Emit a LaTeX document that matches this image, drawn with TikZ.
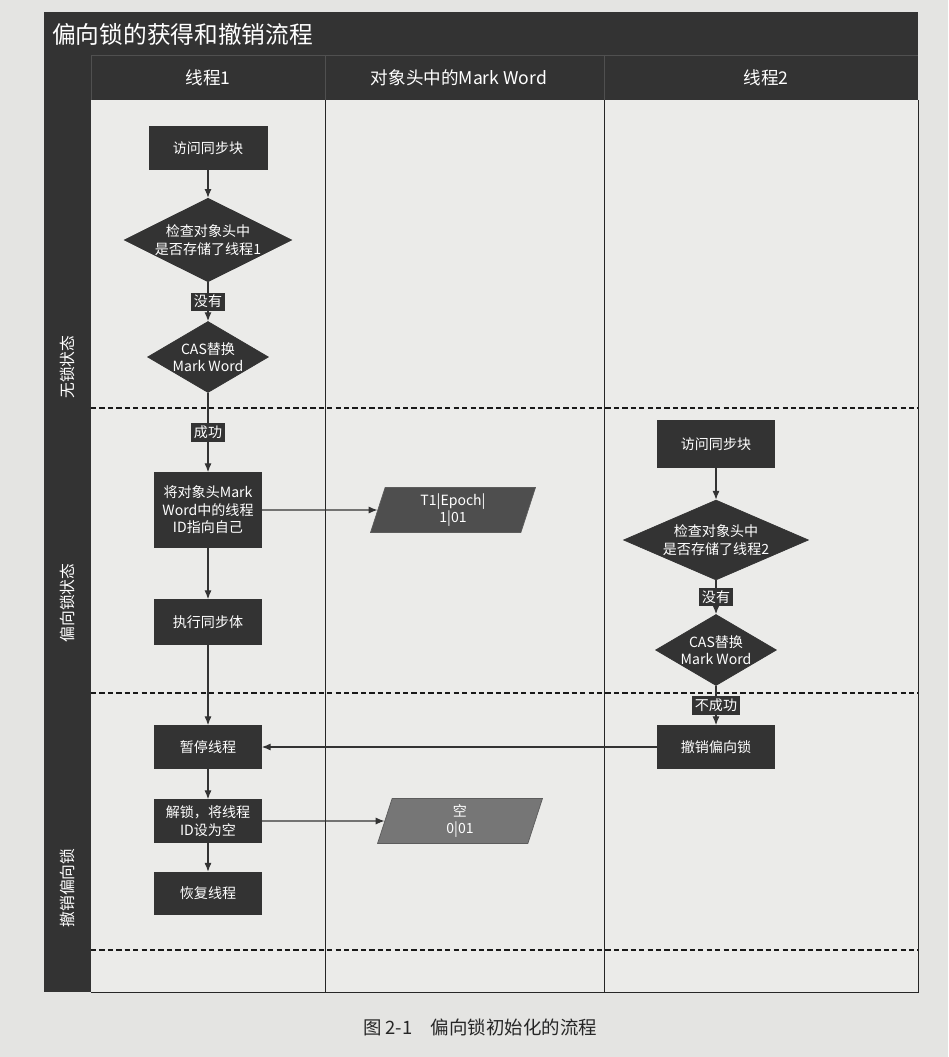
\documentclass[tikz,border=0pt]{standalone}
\usepackage{fontspec}
\setmainfont{Noto Sans CJK SC}
\usetikzlibrary{shapes.geometric,arrows.meta}
\definecolor{ink}{HTML}{333333}
\definecolor{seam}{HTML}{505050}
\definecolor{paper}{HTML}{E4E4E2}
\definecolor{pane}{HTML}{EBEBE9}
\definecolor{slate}{HTML}{4E4E4E}
\definecolor{ash}{HTML}{767676}

\begin{document}
\begin{tikzpicture}[x=0.02cm,y=-0.02cm,
	every node/.style={font=\fontsize{8}{10}\selectfont},
	box/.style={draw=ink,fill=ink,text=white,align=center,minimum width=2.14cm,minimum height=0.86cm},
	decision/.style={diamond,draw=ink,fill=ink,text=white,align=center,inner sep=0pt},
	datum/.style={trapezium,trapezium left angle=72,trapezium right angle=108,trapezium stretches body,
		draw=ink!80,text=white,align=center,minimum width=3.3cm,minimum height=0.84cm},
	tag/.style={fill=ink,text=white,inner sep=1.5pt},
	flow/.style={draw=ink,line width=0.6pt,-{Latex[length=5pt,width=4pt]}},
	zone/.style={text=white,rotate=90,font=\fontsize{9}{11}\selectfont},
	lane/.style={text=white,font=\fontsize{10}{12}\selectfont},
	border/.style={draw=black!85,line width=0.5pt},
	phase/.style={draw=black!90,line width=1.3pt,dash pattern=on 3pt off 1.8pt}]
	\fill[paper] (0,0) rectangle (948,1057);
	\fill[pane] (91,100) rectangle (918,992);
	\fill[ink] (44,12) rectangle (918,100);
	\fill[ink] (44,12) rectangle (91,992);
	\draw[seam,line width=0.4pt] (91,100) -- (91,55) -- (918,55);
	\draw[seam,line width=0.4pt] (325,55) -- (325,100);
	\draw[seam,line width=0.4pt] (604,55) -- (604,100);
	\draw[border] (91,992) -- (918,992) -- (918,100);
	\draw[border] (325,100) -- (325,992);
	\draw[border] (604,100) -- (604,992);
	\draw[phase] (91,408) -- (918,408);
	\draw[phase] (91,693) -- (918,693);
	\draw[phase] (91,950) -- (918,950);

	\node[lane,anchor=west,font=\fontsize{13.5}{16}\selectfont] (title) at (46,34) {偏向锁的获得和撤销流程};
	\node[lane] (lane1) at (208,78) {线程1};
	\node[lane] (lane2) at (459,78) {对象头中的Mark Word};
	\node[lane] (lane3) at (766,78) {线程2};
	\node[zone] (free) at (67,367) {无锁状态};
	\node[zone] (biased) at (67,603) {偏向锁状态};
	\node[zone] (undo) at (67,888) {撤销偏向锁};

	\node[box,minimum width=2.36cm] (visit1) at (208,148) {访问同步块};
	\node[decision,shape aspect=2,minimum width=3.2cm,minimum height=1.6cm] (check1) at (208,240) {检查对象头中\\是否存储了线程1};
	\node[decision,shape aspect=1.7,minimum width=2.2cm,minimum height=1.3cm] (cas1) at (208,357) {CAS替换\\Mark Word};
	\node[box,minimum height=1.5cm] (setid) at (208,510) {将对象头Mark\\Word中的线程\\ID指向自己};
	\node[box,minimum height=0.9cm] (run) at (208,622) {执行同步体};
	\node[box] (pause) at (208,747) {暂停线程};
	\node[box] (unlock) at (208,821) {解锁，将线程\\ID设为空};
	\node[box,minimum height=0.84cm] (resume) at (208,893) {恢复线程};

	\node[datum,fill=slate] (mwbias) at (453,510) {T1|Epoch|\\1|01};
	\node[datum,fill=ash] (mwempty) at (460,821) {空\\0|01};

	\node[box,minimum width=2.34cm,minimum height=0.94cm] (visit2) at (716,444) {访问同步块};
	\node[decision,shape aspect=2.3,minimum width=3.7cm,minimum height=1.6cm] (check2) at (716,540) {检查对象头中\\是否存储了线程2};
	\node[decision,shape aspect=1.7,minimum width=2.3cm,minimum height=1.32cm] (cas2) at (716,650) {CAS替换\\Mark Word};
	\node[box,minimum width=2.34cm] (revoke) at (716,747) {撤销偏向锁};

	\draw[flow] (visit1) -- (check1);
	\draw[flow] (check1) -- node[tag] (no1) {没有} (cas1);
	\draw[flow] (cas1) -- node[tag] (ok1) {成功} (setid);
	\draw[flow] (setid) -- (run);
	\draw[flow] (run) -- (pause);
	\draw[flow] (pause) -- (unlock);
	\draw[flow] (unlock) -- (resume);
	\draw[flow] (setid) -- (mwbias);
	\draw[flow] (unlock) -- (mwempty);
	\draw[flow] (visit2) -- (check2);
	\draw[flow] (check2) -- node[tag] (no2) {没有} (cas2);
	\draw[flow] (cas2) -- node[tag] (fail2) {不成功} (revoke);
	\draw[flow] (revoke) -- (pause);

	\node[font=\fontsize{10.5}{12}\selectfont,text=black!85] (caption) at (480,1027) {图 2-1\quad 偏向锁初始化的流程};
\end{tikzpicture}
\end{document}
